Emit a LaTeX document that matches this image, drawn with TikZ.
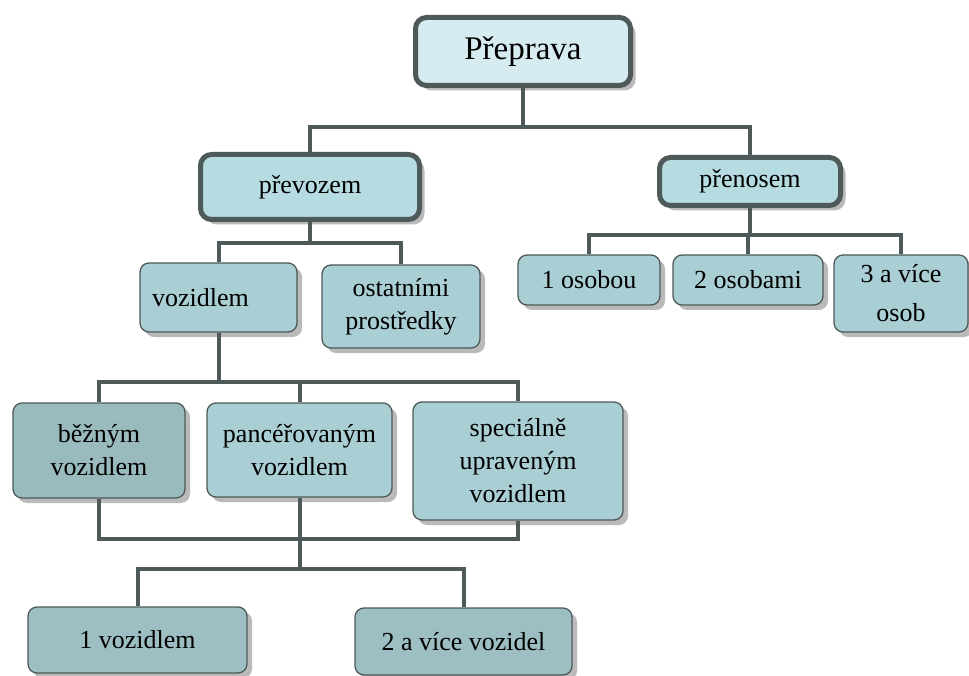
\documentclass[tikz,border=0pt]{standalone}
\usepackage{fontspec}
\setmainfont{Liberation Serif}
\usetikzlibrary{positioning,shadows}
\definecolor{linegray}{HTML}{4E5959}
\definecolor{toplight}{HTML}{D6ECF0}
\definecolor{midfill}{HTML}{B6DCE2}
\definecolor{lowfill}{HTML}{A9CED3}
\definecolor{darkfill}{HTML}{99BBBE}
\definecolor{basefill}{HTML}{9DBFC3}

\begin{document}
\begin{tikzpicture}[x=1pt,y=-1pt,
    % Node styles
    box/.style={
        draw=linegray, line width=1.3pt, rounded corners=9pt,
        align=center, inner sep=2pt, fill=lowfill,
        font=\fontsize{26}{33}\selectfont,
        drop shadow={shadow xshift=5pt, shadow yshift=-5pt, fill=black!45, opacity=.6},
    },
    head box/.style={
        box, line width=5pt, rounded corners=11pt, fill=midfill,
    },
    % Connector style
    conn/.style={draw=linegray, line width=4pt},
  ]
  \useasboundingbox (0,0) rectangle (969,676);

  % --- Boxes ---
  \node[head box, fill=toplight, minimum width=215, minimum height=68,
        font=\fontsize{33}{38}\selectfont] (prep) at (523,51.5) {Přeprava};

  \node[head box, minimum width=219, minimum height=65] (prev) at (310,187) {převozem};
  \node[head box, minimum width=181, minimum height=48] (pren) at (750,181.5) {přenosem};

  \node[box, minimum width=157, minimum height=69, align=left,
        inner xsep=12pt, text width=133] (voz) at (218.5,297.5) {vozidlem};
  \node[box, minimum width=158, minimum height=83] (ost) at (401,306.5) {ostatními\\prostředky};

  \node[box, minimum width=142, minimum height=50] (o1) at (589,280) {1 osobou};
  \node[box, minimum width=150, minimum height=50] (o2) at (748,280) {2 osobami};
  \node[box, minimum width=134, minimum height=77] (o3) at (901,293.5) {3 a více\\[6pt]osob};

  \node[box, fill=darkfill, minimum width=172, minimum height=95] (beh) at (99,450.5) {běžným\\vozidlem};
  \node[box, minimum width=185, minimum height=94] (panc) at (299.5,450) {pancéřovaným\\vozidlem};
  \node[box, minimum width=210, minimum height=118] (spec) at (518,461) {speciálně\\upraveným\\vozidlem};

  \node[box, fill=basefill, minimum width=219, minimum height=66] (one) at (137.5,640) {1 vozidlem};
  \node[box, fill=basefill, minimum width=217, minimum height=67] (two) at (463.5,641.5) {2 a více vozidel};

  % --- Connectors ---
  \coordinate (bus1) at (0,127);
  \coordinate (bus2) at (0,243);
  \coordinate (bus3) at (0,235);
  \coordinate (bus4) at (0,382);
  \coordinate (bus5) at (0,539);
  \coordinate (bus6) at (0,569);

  \draw[conn] (prep.south) -- (prep.south |- bus1);
  \draw[conn] (prev.north) |- (pren.north |- bus1) -- (pren.north);

  \draw[conn] (prev.south) -- (prev.south |- bus2);
  \draw[conn] (voz.north) |- (ost.north |- bus2) -- (ost.north);

  \draw[conn] (pren.south) -- (pren.south |- bus3);
  \draw[conn] (o1.north) |- (o3.north |- bus3) -- (o3.north);
  \draw[conn] (o2.north) -- (o2.north |- bus3);

  \draw[conn] (voz.south) -- (voz.south |- bus4);
  \draw[conn] (beh.north) |- (spec.north |- bus4) -- (spec.north);
  \draw[conn] (panc.north) -- (panc.north |- bus4);

  \draw[conn] (beh.south) |- (spec.south |- bus5) -- (spec.south);
  \draw[conn] (panc.south) -- (panc.south |- bus6);
  \draw[conn] (one.north) |- (two.north |- bus6) -- (two.north);
\end{tikzpicture}
\end{document}
